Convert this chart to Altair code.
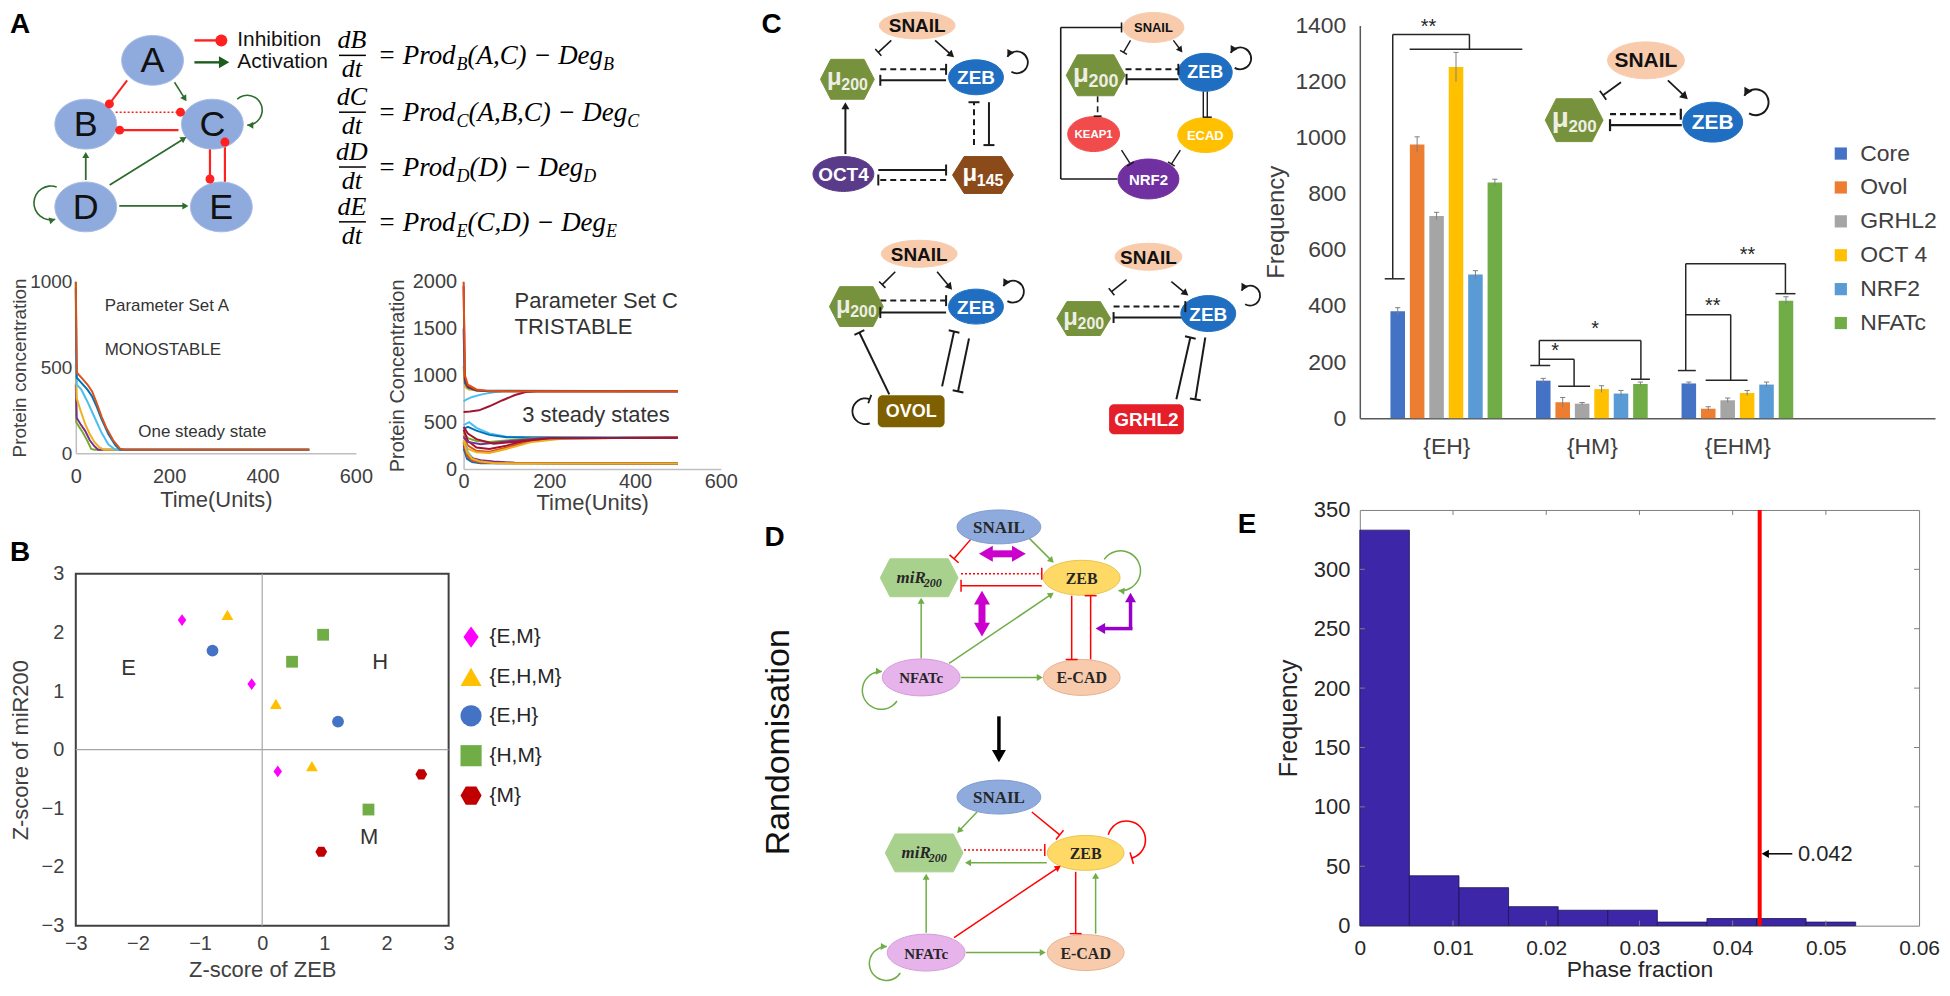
import math
import altair as alt
import pandas as pd

SANS = "Liberation Sans, Arial, Helvetica, sans-serif"
SERIF = "Liberation Serif, Times New Roman, serif"

# ================= DATA =================
# Panel A - monostable trajectories (time, concentration)
mono_t_green = [0, 1, 8, 15, 25, 33, 40, 500]
mono_v_green = [1000, 180, 150, 120, 70, 25, 20, 20]
mono_t_purple = [0, 2, 10, 20, 30, 40, 48, 500]
mono_v_purple = [400, 205, 170, 130, 75, 40, 20, 20]
mono_t_yellow = [0, 2, 10, 20, 30, 40, 50, 60, 500]
mono_v_yellow = [520, 320, 250, 170, 110, 65, 35, 20, 20]
mono_t_lblue = [0, 2, 12, 25, 35, 45, 55, 70, 85, 500]
mono_v_lblue = [600, 400, 370, 300, 240, 180, 120, 50, 20, 20]
mono_t_blue = [0, 2, 12, 25, 35, 45, 55, 70, 85, 95, 500]
mono_v_blue = [960, 440, 410, 370, 330, 270, 200, 110, 45, 20, 20]
mono_t_orange = [0, 2, 12, 25, 35, 45, 55, 65, 80, 95, 105, 500]
mono_v_orange = [1000, 470, 440, 400, 360, 290, 215, 150, 75, 25, 20, 20]

# Panel A - tristable trajectories
tri_curves = [
    ("u_yellow", "#EDB120", [0, 3, 12, 40, 500], [1100, 880, 850, 832, 830]),
    ("u_lblue", "#4DBEEE", [0, 5, 20, 45, 70, 95, 500], [720, 740, 770, 800, 820, 830, 830]),
    ("u_dred", "#A2142F", [0, 15, 36, 60, 91, 120, 145, 170, 500], [610, 615, 627, 670, 735, 790, 822, 830, 830]),
    ("u_blue", "#0072BD", [0, 3, 10, 30, 500], [1500, 920, 870, 838, 830]),
    ("u_red", "#A2142F", [0, 3, 10, 30, 60, 500], [1950, 960, 880, 840, 830, 830]),
    ("u_orange", "#D95319", [0, 3, 10, 30, 60, 500], [2000, 1000, 900, 850, 832, 830]),
    ("m_lblue", "#4DBEEE", [0, 13, 30, 60, 100, 150, 500], [470, 500, 440, 380, 345, 335, 335]),
    ("m_blue", "#0072BD", [0, 10, 30, 60, 100, 500], [430, 450, 410, 365, 340, 335]),
    ("m_green", "#77AC30", [0, 10, 30, 60, 100, 160, 500], [390, 330, 300, 290, 305, 330, 335]),
    ("m_dred", "#A2142F", [0, 10, 30, 60, 100, 150, 200, 500], [420, 300, 230, 215, 250, 305, 330, 335]),
    ("m_orange", "#D95319", [0, 10, 30, 60, 100, 150, 220, 500], [360, 250, 195, 185, 230, 295, 330, 335]),
    ("m_yellow", "#EDB120", [0, 10, 30, 60, 100, 160, 240, 500], [310, 215, 180, 172, 215, 290, 328, 335]),
    ("m_purple", "#7E2F8E", [0, 10, 40, 100, 180, 500], [340, 290, 265, 295, 330, 335]),
    ("m_dred2", "#A2142F", [0, 10, 30, 70, 120, 200, 500], [450, 380, 320, 270, 290, 328, 335]),
    ("l_green", "#77AC30", [0, 8, 20, 40, 500], [280, 130, 85, 65, 60]),
    ("l_lblue", "#4DBEEE", [0, 5, 10, 25, 50, 500], [270, 250, 180, 95, 65, 60]),
    ("l_blue", "#0072BD", [0, 8, 20, 40, 500], [220, 110, 75, 63, 60]),
    ("l_purple", "#7E2F8E", [0, 8, 20, 40, 70, 120, 200, 500], [250, 150, 115, 95, 80, 68, 62, 60]),
    ("l_orange", "#D95319", [0, 8, 20, 40, 80, 500], [290, 140, 90, 70, 62, 60]),
    ("l_yellow", "#EDB120", [0, 8, 20, 40, 70, 120, 500], [300, 180, 110, 80, 66, 60, 60]),
]

# Panel B - Z-scores
zeb_z = [-1.29, -0.17, 0.25, -0.56, 0.22, 0.80, -0.80, 1.22, 0.98, 0.48, 1.71, 2.56, 0.95]
mir_z = [2.21, 1.12, -0.37, 2.30, 0.78, -0.28, 1.69, 0.48, 1.96, 1.50, -1.02, -0.42, -1.74]
state_of = ["{E,M}", "{E,M}", "{E,M}", "{E,H,M}", "{E,H,M}", "{E,H,M}", "{E,H}", "{E,H}",
            "{H,M}", "{H,M}", "{H,M}", "{M}", "{M}"]
states = ["{E,M}", "{E,H,M}", "{E,H}", "{H,M}", "{M}"]
state_colors = ["#FF00FF", "#FFC000", "#4472C4", "#70AD47", "#C00000"]
region_labels = ["E", "H", "M"]
region_x = [-2.15, 1.90, 1.72]
region_y = [1.39, 1.50, -1.49]

# Panel C - frequencies
bar_groups = ["{EH}", "{HM}", "{EHM}"]
bar_series = ["Core", "Ovol", "GRHL2", "OCT 4", "NRF2", "NFATc"]
bar_colors = ["#4472C4", "#ED7D31", "#A5A5A5", "#FFC000", "#5B9BD5", "#70AD47"]
freq_EH = [381, 976, 721, 1252, 512, 840]
freq_HM = [134, 57, 52, 104, 88, 122]
freq_EHM = [124, 34, 64, 90, 120, 419]
err_EH = [13, 27, 13, 52, 14, 12]
err_HM = [8, 17, 4, 12, 11, 7]
err_EHM = [5, 7, 8, 9, 9, 14]

# Panel E - histogram of phase fraction
bin_edges = [0, 0.00532, 0.01064, 0.01596, 0.02128, 0.0266, 0.03192, 0.03724, 0.04256, 0.04788, 0.0532]
bin_counts = [333, 42, 32, 16, 13, 13, 3, 6, 6, 3]
observed_fraction = 0.0429
observed_label = "0.042"

# ================= HELPERS =================
TI_W = {" ": 250, "=": 675, "P": 611, "r": 389, "o": 500, "d": 500, "(": 333, ")": 333,
        ",": 250, "A": 611, "B": 611, "C": 667, "D": 722, "E": 611, "\u2212": 675, "e": 444,
        "g": 500, "t": 278, "m": 722, "i": 278, "R": 611}


def ti_width(s, fs):
    return sum(TI_W.get(ch, 500) for ch in s) * fs / 1000.0


def ell_path(w, h):
    k = h / w
    c = 0.5523
    return ("M -1 0 C -1 %.4f %.4f %.4f 0 %.4f C %.4f %.4f 1 %.4f 1 0 "
            "C 1 %.4f %.4f %.4f 0 %.4f C %.4f %.4f -1 %.4f -1 0 Z" % (
                -c * k, -c, -k, -k, c, -k, -c * k,
                c * k, c, k, k, -c, k, c * k))


def hex_path(w, h, a):
    k = h / w
    return "M -1 0 L %.3f %.4f L %.3f %.4f L 1 0 L %.3f %.4f L %.3f %.4f Z" % (-a, -k, a, -k, a, k, -a, k)


def ncol(f):
    return alt.Color(f + ":N", scale=None, legend=None)


def frame_layers(pw, ph, L, T, R, B):
    """Two 1-px white marks at the corners of the box that fixes a view's layout bounds."""
    one = pd.DataFrame({"f": [0]})
    tl = alt.Chart(one).mark_rect(color="#FFFFFF", opacity=1).encode(
        x=alt.value(-L), x2=alt.value(-L + 1), y=alt.value(-T), y2=alt.value(-T + 1))
    br = alt.Chart(one).mark_rect(color="#FFFFFF", opacity=1).encode(
        x=alt.value(pw + R - 1), x2=alt.value(pw + R), y=alt.value(ph + B - 1), y2=alt.value(ph + B))
    return [tl, br]


def indep(ch):
    return ch.resolve_scale(color="independent", shape="independent")


class Diagram:
    """Schematic on a pixel-like linear scale; the view covers [x0, x0+vw] x [y0, y0+vh],
    and its layout box extends L/T/R/B pixels around the view."""

    def __init__(self, x0, y0, vw, vh, L=0, T=0, R=0, B=0):
        self.x0, self.y0, self.vw, self.vh = x0, y0, vw, vh
        self.ext = (L, T, R, B)
        self.nodes, self.rects, self.texts, self.lines = [], [], [], []
        self.tris, self.bars, self.dots, self.arcs = [], [], [], []

    def node(self, x, y, w, h, kind, fill, edge=None, a=0.62):
        edge = edge or fill
        if kind == "rect":
            self.rects.append(dict(x=x - w / 2.0, x2=x + w / 2.0, y=y - h / 2.0, y2=y + h / 2.0, fill=fill))
            return
        path = ell_path(w, h) if kind == "ellipse" else hex_path(w, h, a)
        self.nodes.append(dict(x=x, y=y, path=path, size=w * w, fill=fill, edge=edge))

    def text(self, x, y, s, size, color="#000000", font=SANS, weight="normal", style="normal",
             align="center", baseline="middle", angle=0):
        self.texts.append(dict(x=x, y=y, text=s, fs=size, color=color,
                               key=(font, weight, style, align, baseline, angle)))

    def _head(self, xa, ya, xb, yb, color, lw, kind, hsize):
        dx, dy = xb - xa, yb - ya
        L = math.hypot(dx, dy) or 1.0
        ux, uy = dx / L, dy / L
        ang = math.degrees(math.atan2(ux, -uy)) % 360.0
        if kind == "arrow":
            s = hsize or 8.0
            h = math.sqrt(3.0) / 4.0 * s
            self.tris.append(dict(x=xb - ux * h, y=yb - uy * h, ang=ang, size=s * s, color=color))
            return 1.6 * h
        if kind == "bar":
            s = hsize or 10.0
            self.bars.append(dict(x=xb, y=yb, ang=ang, size=s * s, color=color, lw=max(lw, 1.5)))
            return 0.0
        if kind == "dot":
            s = hsize or 9.0
            self.dots.append(dict(x=xb, y=yb, size=s * s, color=color))
            return 0.0
        return 0.0

    def edge(self, x1, y1, x2, y2, color, lw=1.6, dash="solid", head=None, tail=None, hsize=None):
        L = math.hypot(x2 - x1, y2 - y1) or 1.0
        ux, uy = (x2 - x1) / L, (y2 - y1) / L
        ex, ey, sx, sy = x2, y2, x1, y1
        if head:
            cut = self._head(x1, y1, x2, y2, color, lw, head, hsize)
            ex, ey = x2 - ux * cut, y2 - uy * cut
        if tail:
            cut = self._head(x2, y2, x1, y1, color, lw, tail, hsize)
            sx, sy = x1 + ux * cut, y1 + uy * cut
        self.lines.append(dict(x=sx, y=sy, x2=ex, y2=ey, color=color, lw=lw, dash=dash))

    def loop(self, cx, cy, r, a1, a2, color, lw=1.6, head="arrow", at="end", hsize=8.0):
        self.arcs.append(dict(x=cx, y=cy, t1=math.radians(a1), t2=math.radians(a2),
                              r=r + lw / 2.0, r2=r - lw / 2.0, color=color))
        phi = math.radians(a2 if at == "end" else a1)
        px, py = cx + r * math.sin(phi), cy - r * math.cos(phi)
        tx, ty = math.cos(phi), math.sin(phi)
        if at == "start":
            tx, ty = -tx, -ty
        self._head(px - tx, py - ty, px, py, color, lw, head, hsize)

    def layers(self):
        sx = alt.Scale(domain=[self.x0, self.x0 + self.vw], nice=False, zero=False)
        sy = alt.Scale(domain=[self.y0, self.y0 + self.vh], nice=False, zero=False, reverse=True)

        def X(f="x"):
            return alt.X(f + ":Q", scale=sx, axis=None)

        def Y(f="y"):
            return alt.Y(f + ":Q", scale=sy, axis=None)

        def SZ(f):
            return alt.Size(f + ":Q", scale=None, legend=None)

        out = []
        for dname, dash in (("solid", None), ("dash", [6, 4]), ("dot", [2, 2])):
            rows = [l for l in self.lines if l["dash"] == dname]
            if not rows:
                continue
            kw = {} if dash is None else {"strokeDash": dash}
            out.append(alt.Chart(pd.DataFrame(rows)).mark_rule(strokeCap="butt", **kw).encode(
                x=X(), y=Y(), x2=alt.X2("x2:Q"), y2=alt.Y2("y2:Q"), color=ncol("color"),
                strokeWidth=alt.StrokeWidth("lw:Q", scale=None, legend=None)))
        if self.arcs:
            out.append(alt.Chart(pd.DataFrame(self.arcs)).mark_arc().encode(
                x=X(), y=Y(), theta=alt.Theta("t1:Q", scale=None, stack=False),
                theta2=alt.Theta2("t2:Q"), radius=alt.Radius("r:Q", scale=None),
                radius2=alt.Radius2("r2:Q"), color=ncol("color")))
        if self.rects:
            out.append(alt.Chart(pd.DataFrame(self.rects)).mark_rect(cornerRadius=5).encode(
                x=X(), x2=alt.X2("x2:Q"), y=Y(), y2=alt.Y2("y2:Q"), color=ncol("fill")))
        if self.nodes:
            out.append(alt.Chart(pd.DataFrame(self.nodes)).mark_point(
                filled=True, opacity=1, strokeWidth=1).encode(
                x=X(), y=Y(), shape=alt.Shape("path:N", scale=None, legend=None),
                size=SZ("size"), color=ncol("fill"),
                stroke=alt.Stroke("edge:N", scale=None, legend=None)))
        if self.tris:
            out.append(alt.Chart(pd.DataFrame(self.tris)).mark_point(
                shape="triangle-up", filled=True, opacity=1).encode(
                x=X(), y=Y(), angle=alt.Angle("ang:Q", scale=None),
                size=SZ("size"), color=ncol("color")))
        if self.bars:
            out.append(alt.Chart(pd.DataFrame(self.bars)).mark_point(
                shape="stroke", filled=False, opacity=1).encode(
                x=X(), y=Y(), angle=alt.Angle("ang:Q", scale=None),
                size=SZ("size"), color=ncol("color"),
                strokeWidth=alt.StrokeWidth("lw:Q", scale=None, legend=None)))
        if self.dots:
            out.append(alt.Chart(pd.DataFrame(self.dots)).mark_point(
                shape="circle", filled=True, opacity=1).encode(
                x=X(), y=Y(), size=SZ("size"), color=ncol("color")))
        groups = {}
        for t in self.texts:
            groups.setdefault(t["key"], []).append({k: v for k, v in t.items() if k != "key"})
        for (font, weight, style, align, baseline, angle), rows in groups.items():
            mk = dict(font=font, fontWeight=weight, fontStyle=style, align=align, baseline=baseline)
            if angle:
                mk["angle"] = angle
            out.append(alt.Chart(pd.DataFrame(rows)).mark_text(**mk).encode(
                x=X(), y=Y(), text="text:N", color=ncol("color"), size=SZ("fs")))
        return out

    def chart(self):
        return alt.layer(*frame_layers(self.vw, self.vh, *self.ext), *self.layers()).properties(
            width=self.vw, height=self.vh)


def mu(d, x, y, sub, big=24, small=16, color="#EEEEE4"):
    wb = 0.6 * big
    ws = 0.556 * len(sub) * small
    x0 = x - (wb + ws) / 2.0
    d.text(x0, y + 0.25 * big, "\u03bc", big, color, weight="bold", align="left", baseline="alphabetic")
    d.text(x0 + wb, y + 0.25 * big + 0.3 * small, sub, small, color, weight="bold", align="left",
           baseline="alphabetic")


def mir(d, x, y):
    w1 = ti_width("miR", 17)
    x0 = x - (w1 + 18) / 2.0
    d.text(x0, y + 5, "miR", 17, "#262626", font=SERIF, weight="bold", style="italic", align="left",
           baseline="alphabetic")
    d.text(x0 + w1, y + 9, "200", 12, "#262626", font=SERIF, weight="bold", style="italic", align="left",
           baseline="alphabetic")


K = "#1A1A1A"

# ================= PANEL A: network + equations =================
a = Diagram(75, 23, 685, 239, L=67, T=15)
a.text(9, 23, "A", 28, weight="bold", align="left")
A_RED, A_GRN = "#FF2020", "#2F6B2F"
a.edge(126.5, 78, 108.7, 101.7, A_RED, 2, head="dot")
a.edge(174, 80, 186, 99, A_GRN, 1.6, head="arrow", hsize=7)
a.edge(115, 110, 180, 110, A_RED, 1.5, dash="dot", head="dot")
a.edge(178, 128, 119, 128, A_RED, 2.4, head="dot")
a.edge(85, 178, 85, 150, A_GRN, 1.8, head="arrow", hsize=7)
a.edge(109, 183, 186, 135, A_GRN, 1.8, head="arrow", hsize=7)
a.edge(118.6, 204, 188, 204, A_GRN, 1.8, head="arrow", hsize=7)
a.edge(209.6, 147, 209.6, 177, A_RED, 2.2, head="dot")
a.edge(224.6, 180, 224.6, 140, A_RED, 2.2, head="dot")
a.loop(247, 108, 15, 318, 540, A_GRN, 1.6, head="arrow", at="end", hsize=7)
a.loop(50, 201, 17, 165, 380, A_GRN, 1.6, head="arrow", at="start", hsize=7)
for name, (nx, ny) in zip(["A", "B", "C", "D", "E"], [(152, 58), (85, 122), (212, 122), (85, 205), (221, 205)]):
    a.node(nx, ny, 62, 50, "ellipse", "#8FAADC", edge="#A8BCE5")
    a.text(nx, ny + 1, name, 36, "#111111")
a.edge(194, 38, 221, 38, A_RED, 2.4, head="dot", hsize=12)
a.text(237, 38, "Inhibition", 21, "#111111", align="left")
a.edge(194, 60, 229, 60, "#1E5C1E", 2.4, head="arrow", hsize=12)
a.text(237, 60, "Activation", 21, "#111111", align="left")

eq_vars = ["B", "C", "D", "E"]
eq_args = ["(A,C)", "(A,B,C)", "(D)", "(C,D)"]
eq_bar_y = [53, 110, 165, 220]
for v, args, yb in zip(eq_vars, eq_args, eq_bar_y):
    a.text(352, yb - 7, "d" + v, 26, font=SERIF, style="italic", baseline="alphabetic")
    a.edge(339, yb, 366, yb, "#000000", 1.5)
    a.text(352, yb + 22, "dt", 26, font=SERIF, style="italic", baseline="alphabetic")
    xcur = 378
    for s, fs, dy in (("= Prod", 27, 0), (v, 18, 6), (args + " \u2212 Deg", 27, 0), (v, 18, 6)):
        a.text(xcur, yb + 9 + dy, s, fs, font=SERIF, style="italic", align="left", baseline="alphabetic")
        xcur += ti_width(s, fs)
A_top = a.chart()

# ================= PANEL A: trajectory plots =================
mono_list = [
    ("g", "#77AC30", mono_t_green, mono_v_green),
    ("p", "#7E2F8E", mono_t_purple, mono_v_purple),
    ("y", "#EDB120", mono_t_yellow, mono_v_yellow),
    ("lb", "#4DBEEE", mono_t_lblue, mono_v_lblue),
    ("b", "#0072BD", mono_t_blue, mono_v_blue),
    ("o", "#D95319", mono_t_orange, mono_v_orange),
]


def curves_df(curves):
    rows = []
    for i, (name, color, ts, vs) in enumerate(curves):
        for t, v in zip(ts, vs):
            rows.append(dict(curve="%02d_%s" % (i, name), color=color, t=t, v=v))
    return pd.DataFrame(rows)


def traj_chart(df, ymax, yvals, ytitle, w, h, texts, tsize, frame, ytp=5, lfs=20, tfs=20, lpad=7,
               xlpad=10, xtpad=6):
    xs = alt.Scale(domain=[0, 600], nice=False, zero=False)
    ys = alt.Scale(domain=[0, ymax], nice=False)
    lines = alt.Chart(df).mark_line(strokeWidth=2).encode(
        x=alt.X("t:Q", scale=xs, axis=alt.Axis(values=[0, 200, 400, 600], title="Time(Units)", format="d",
                                              labelFontSize=20, titleFontSize=22, labelColor="#404040",
                                              titleColor="#404040", titleFontWeight="normal",
                                              domainColor="#BFBFBF", domainWidth=1.5, ticks=False,
                                              grid=False, labelPadding=xlpad, titlePadding=xtpad,
                                              labelFlush=False, labelOverlap=False)),
        y=alt.Y("v:Q", scale=ys, axis=alt.Axis(values=yvals, title=ytitle, format="d", labelFontSize=lfs,
                                              titleFontSize=tfs, labelColor="#404040", titleColor="#404040",
                                              titleFontWeight="normal", domainColor="#BFBFBF",
                                              domainWidth=1.5, ticks=False, grid=False, labelPadding=lpad,
                                              labelFlush=False, labelOverlap=False, titlePadding=ytp)),
        color=ncol("color"),
        detail="curve:N")
    tdf = pd.DataFrame(texts, columns=["t", "v", "label"])
    txt = alt.Chart(tdf).mark_text(align="left", baseline="middle", fontSize=tsize, color="#333333").encode(
        x=alt.X("t:Q", scale=xs), y=alt.Y("v:Q", scale=ys), text="label:N")
    return alt.layer(*frame_layers(w, h, *frame), lines, txt).properties(width=w, height=h)


left_plot = traj_chart(curves_df(mono_list), 1000, [0, 500, 1000], "Protein concentration", 281, 172,
                       [(62, 857, "Parameter Set A"), (62, 600, "MONOSTABLE"), (134, 126, "One steady state")],
                       17, (67, 18, 26, 68), ytp=0, lfs=19, tfs=19, lpad=4, xlpad=13, xtpad=4)
right_plot = traj_chart(curves_df(tri_curves), 2000, [0, 500, 1000, 1500, 2000], "Protein Concentration",
                        258, 188,
                        [(119, 1795, "Parameter Set C"), (119, 1514, "TRISTABLE"), (137, 573, "3 steady states")],
                        22, (82, 18, 38, 52), ytp=5, xlpad=2, xtpad=2)

# ================= PANEL B =================
bxs = alt.Scale(domain=[-3, 3], nice=False, zero=False)
bys = alt.Scale(domain=[-3, 3], nice=False, zero=False)
sc_df = pd.DataFrame({"zeb": zeb_z, "mir": mir_z, "state": state_of})
hexagon = "M -1 0 L -0.5 -0.866 L 0.5 -0.866 L 1 0 L 0.5 0.866 L -0.5 0.866 Z"
diamond = "M 0 -1 L 0.72 0 L 0 1 L -0.72 0 Z"
b_legend = alt.Legend(orient="none", legendX=385, legendY=52, title=None, labelFontSize=21,
                      labelColor="#262626", symbolSize=450, rowPadding=17, labelOffset=7, padding=0)
zero_df = pd.DataFrame({"z": [0]})
b_vline = alt.Chart(zero_df).mark_rule(color="#A6A6A6", strokeWidth=1.2).encode(
    x=alt.X("z:Q", scale=bxs, axis=alt.Axis(values=[-3, -2, -1, 0, 1, 2, 3], title="Z-score of ZEB", format="d",
                                            labelFontSize=20, titleFontSize=22, labelColor="#404040",
                                            titleColor="#404040", titleFontWeight="normal", domain=False,
                                            ticks=False, grid=False, labelPadding=8, titlePadding=6,
                                            labelFlush=False, labelOverlap=False)))
b_hline = alt.Chart(zero_df).mark_rule(color="#A6A6A6", strokeWidth=1.2).encode(
    y=alt.Y("z:Q", scale=bys, axis=alt.Axis(values=[-3, -2, -1, 0, 1, 2, 3], title="Z-score of miR200",
                                            format="d", labelFontSize=20, titleFontSize=22, labelColor="#404040",
                                            titleColor="#404040", titleFontWeight="normal", domain=False,
                                            ticks=False, grid=False, labelPadding=12, titlePadding=9,
                                            labelFlush=False, labelOverlap=False)))
b_pts = alt.Chart(sc_df).mark_point(filled=True, opacity=1, size=140).encode(
    x=alt.X("zeb:Q", scale=bxs), y=alt.Y("mir:Q", scale=bys),
    color=alt.Color("state:N", scale=alt.Scale(domain=states, range=state_colors), legend=b_legend),
    shape=alt.Shape("state:N", scale=alt.Scale(domain=states,
                                              range=[diamond, "triangle-up", "circle", "square", hexagon]),
                    legend=b_legend))
b_txt = alt.Chart(pd.DataFrame({"x": region_x, "y": region_y, "t": region_labels})).mark_text(
    fontSize=22, color="#333333").encode(
    x=alt.X("x:Q", scale=bxs), y=alt.Y("y:Q", scale=bys), text="t:N")
b_letter = alt.Chart(pd.DataFrame({"t": ["B"]})).mark_text(
    fontSize=28, fontWeight="bold", align="left", color="#000000").encode(
    x=alt.value(-66), y=alt.value(-21), text="t:N")
B_plot = alt.layer(*frame_layers(374, 353, 67, 52, 311, 53), b_vline, b_hline, b_pts, b_txt, b_letter).properties(
    width=374, height=353, view=alt.ViewBackground(stroke="#404040", strokeWidth=2))

# ================= PANEL C diagrams =================
SN_F, MIR_F, ZEB_F = "#F8CBAD", "#76923C", "#1F6EC1"
c = Diagram(760, 23, 506, 447, T=15)
c.text(772, 23, "C", 28, weight="bold")
# diagram 1 (OCT4)
c.edge(892, 38, 879, 50, K, 1.6, head="bar", hsize=9)
c.edge(936, 38, 955, 55, K, 1.6, head="arrow", hsize=8)
c.edge(881, 67, 947, 67, K, 2, dash="dash", head="bar", hsize=11)
c.edge(947, 78, 881, 78, K, 2, head="bar", hsize=11)
c.loop(1018, 60, 11, 300, 570, K, 1.8, head="arrow", at="start", hsize=8)
c.edge(975, 143, 975, 100, K, 2, dash="dash", head="bar", hsize=11)
c.edge(990, 100, 990, 143, K, 2, head="bar", hsize=11)
c.edge(846, 152, 846, 100, K, 2, head="arrow", hsize=8)
c.edge(879, 168, 947, 168, K, 2, head="bar", hsize=11)
c.edge(947, 178, 879, 178, K, 2, dash="dash", head="bar", hsize=11)
c.node(918, 23, 76, 27, "ellipse", SN_F)
c.text(918, 24, "SNAIL", 19, "#111111", weight="bold")
c.node(848, 77, 54, 40, "hex", MIR_F)
mu(c, 848, 77, "200")
c.node(977, 75, 55, 35, "ellipse", ZEB_F)
c.text(977, 76, "ZEB", 19, "#FFFFFF", weight="bold")
c.node(844, 172, 61, 35, "ellipse", "#5A3B89")
c.text(844, 173, "OCT4", 19, "#FFFFFF", weight="bold")
c.node(984, 173, 61, 37, "hex", "#8A4A1A")
mu(c, 984, 173, "145", color="#FFFFFF")
# diagram 2 (NRF2)
c.edge(1132, 38, 1125, 50, K, 1.4, head="bar", hsize=8)
c.edge(1175, 38, 1184, 50, K, 1.4, head="arrow", hsize=7)
c.edge(1127, 67, 1180, 67, K, 2, dash="dash", head="bar", hsize=11)
c.edge(1180, 77, 1128, 77, K, 2, head="bar", hsize=11)
c.edge(1099, 94, 1099, 114, K, 1.6, dash="dash", head="bar", hsize=8)
c.edge(1205, 89, 1205, 115, K, 1.4)
c.edge(1209, 89, 1209, 115, K, 1.4, head="bar", hsize=9)
c.edge(1123, 148, 1132, 162, K, 1.4, head="bar", hsize=8)
c.edge(1182, 148, 1173, 162, K, 1.4, head="bar", hsize=8)
c.edge(1119, 177, 1062, 177, K, 1.6)
c.edge(1062, 177, 1062, 25, K, 1.6)
c.edge(1062, 25, 1123, 25, K, 1.6, head="bar", hsize=10)
c.loop(1242, 56, 11, 300, 570, K, 1.8, head="arrow", at="start", hsize=8)
c.node(1155, 25, 61, 30, "ellipse", SN_F)
c.text(1155, 26, "SNAIL", 13, "#111111", weight="bold")
c.node(1097, 73, 59, 41, "hex", MIR_F)
mu(c, 1097, 73, "200", big=26, small=18)
c.node(1207, 70, 54, 38, "ellipse", ZEB_F)
c.text(1207, 71, "ZEB", 18, "#FFFFFF", weight="bold")
c.node(1095, 132, 52, 35, "ellipse", "#F14B4B")
c.text(1095, 133, "KEAP1", 11.5, "#FFFFFF", weight="bold")
c.node(1207, 133, 55, 35, "ellipse", "#FFC000")
c.text(1207, 134, "ECAD", 13, "#FFFFFF", weight="bold")
c.node(1150, 177, 61, 40, "ellipse", "#7030A0")
c.text(1150, 178, "NRF2", 15, "#FFFFFF", weight="bold")
# diagram 3 (OVOL)
c.edge(896, 270, 883, 283, K, 1.6, head="bar", hsize=9)
c.edge(938, 270, 953, 288, K, 1.6, head="arrow", hsize=8)
c.edge(881, 299, 947, 299, K, 2, dash="dash", head="bar", hsize=11)
c.edge(947, 311, 881, 311, K, 2, head="bar", hsize=11)
c.loop(1014, 290, 11, 300, 570, K, 1.8, head="arrow", at="start", hsize=8)
c.edge(890, 393, 860, 331, K, 2, head="bar", hsize=11)
c.edge(943, 385, 955, 330, K, 2, head="bar", hsize=11)
c.edge(970, 337, 959, 390, K, 2, head="bar", hsize=11)
c.loop(866, 410, 13, 160, 380, K, 1.8, head="bar", at="end", hsize=9)
c.node(920, 252, 76, 27, "ellipse", SN_F)
c.text(920, 253, "SNAIL", 19, "#111111", weight="bold")
c.node(857, 305, 54, 40, "hex", MIR_F)
mu(c, 857, 305, "200")
c.node(977, 305, 55, 35, "ellipse", ZEB_F)
c.text(977, 306, "ZEB", 19, "#FFFFFF", weight="bold")
c.node(912, 410, 67, 32, "rect", "#7F6000")
c.text(912, 411, "OVOL", 18, "#FFFFFF", weight="bold")
# diagram 4 (GRHL2)
c.edge(1128, 278, 1113, 290, K, 1.6, head="bar", hsize=9)
c.edge(1173, 280, 1190, 294, K, 1.6, head="arrow", hsize=8)
c.edge(1115, 305, 1187, 305, K, 2, dash="dash", head="bar", hsize=11)
c.edge(1187, 316, 1115, 316, K, 2, head="bar", hsize=11)
c.loop(1252, 294, 10, 300, 570, K, 1.8, head="arrow", at="start", hsize=8)
c.edge(1178, 398, 1192, 336, K, 2, head="bar", hsize=11)
c.edge(1207, 336, 1197, 398, K, 2, head="bar", hsize=11)
c.node(1150, 255, 67, 27, "ellipse", SN_F)
c.text(1150, 256, "SNAIL", 19, "#111111", weight="bold")
c.node(1085, 317, 54, 34, "hex", MIR_F)
mu(c, 1085, 317, "200")
c.node(1210, 312, 55, 36, "ellipse", ZEB_F)
c.text(1210, 313, "ZEB", 19, "#FFFFFF", weight="bold")
c.node(1148, 418, 75, 30, "rect", "#E51F2A")
c.text(1148, 419, "GRHL2", 19, "#FFFFFF", weight="bold")
C_chart = c.chart()

# ================= PANEL D =================
d = Diagram(760, 470, 506, 508)
d.text(775, 537, "D", 28, weight="bold")
d.text(1249, 524, "E", 28, weight="bold")
d.text(779, 742, "Randomisation", 34, "#111111", angle=270)
G, R = "#70AD47", "#FF0000"
D_SN, D_MIR, D_ZEB, D_NF, D_EC = "#8FAADC", "#A9D18E", "#FFD966", "#E6B3EA", "#F8CBAD"
d.edge(973, 537, 955, 558, R, 1.5, head="bar", hsize=12)
d.edge(1030, 537, 1055, 562, G, 1.5, head="arrow", hsize=7)
d.edge(962, 573, 1043, 573, R, 1.5, dash="dot", head="bar", hsize=12)
d.edge(1043, 585, 962, 585, R, 1.5, head="bar", hsize=12)
d.edge(922, 658, 922, 597, G, 1.5, head="arrow", hsize=7)
d.edge(950, 663, 1055, 592, G, 1.5, head="arrow", hsize=7)
d.edge(962, 677, 1044, 677, G, 1.5, head="arrow", hsize=7)
d.edge(1073, 595, 1073, 659, R, 1.5, head="bar", hsize=12)
d.edge(1092, 659, 1092, 595, R, 1.5, head="bar", hsize=12)
d.loop(1122, 570, 20, 305, 546, G, 1.5, head="arrow", at="end", hsize=7)
d.loop(882, 690, 19, 124, 362, G, 1.5, head="arrow", at="end", hsize=7)
d.edge(978, 812, 958, 833, G, 1.5, head="arrow", hsize=7)
d.edge(1033, 812, 1061, 835, R, 1.5, head="bar", hsize=12)
d.edge(965, 850, 1046, 850, R, 1.5, dash="dot", head="bar", hsize=12)
d.edge(1048, 863, 966, 863, G, 1.5, head="arrow", hsize=7)
d.edge(927, 933, 927, 874, G, 1.5, head="arrow", hsize=7)
d.edge(955, 938, 1062, 866, R, 1.5, head="arrow", hsize=7)
d.edge(967, 953, 1047, 953, G, 1.5, head="arrow", hsize=7)
d.edge(1077, 872, 1077, 934, R, 1.5, head="bar", hsize=12)
d.edge(1097, 934, 1097, 873, G, 1.5, head="arrow", hsize=7)
d.loop(1128, 840, 19, 286, 524, R, 1.6, head="bar", at="end", hsize=12)
d.loop(887, 964, 17, 124, 362, G, 1.5, head="arrow", at="end", hsize=7)
for (nx, ny) in [(1000, 526), (1000, 797)]:
    d.node(nx, ny, 84, 34, "ellipse", D_SN, edge="#7F9BD0")
    d.text(nx, ny + 1, "SNAIL", 17, "#262626", font=SERIF, weight="bold")
for (mx, my), (zx, zy), (fx, fy), (ex_, ey_) in [((920, 577), (1083, 577), (922, 677), (1083, 677)),
                                                 ((925, 853), (1087, 853), (927, 953), (1087, 953))]:
    d.node(mx, my, 78, 38, "hex", D_MIR, a=0.75)
    mir(d, mx, my)
    d.node(zx, zy, 77, 35, "ellipse", D_ZEB, edge="#E8C450")
    d.text(zx, zy + 1, "ZEB", 16, "#262626", font=SERIF, weight="bold")
    d.node(fx, fy, 78, 37, "ellipse", D_NF, edge="#D49AD8")
    d.text(fx, fy + 1, "NFATc", 15, "#262626", font=SERIF, weight="bold")
    d.node(ex_, ey_, 77, 36, "ellipse", D_EC, edge="#E5B090")
    d.text(ex_, ey_ + 1, "E-CAD", 16, "#262626", font=SERIF, weight="bold")
d.edge(980, 553, 1027, 553, "#CC00CC", 7, head="arrow", tail="arrow", hsize=16)
d.edge(983, 590, 983, 636, "#CC00CC", 7, head="arrow", tail="arrow", hsize=16)
d.edge(1132, 628, 1132, 592, "#9900CC", 3.5, head="arrow", hsize=11)
d.edge(1134, 628, 1097, 628, "#9900CC", 3.5, head="arrow", hsize=11)
d.edge(1000, 716, 1000, 762, "#000000", 3.5, head="arrow", hsize=14)
D_chart = d.chart()

# ================= PANEL C bar chart =================
GU = 146.0
BAR_W = 577
bar_rows = []
for g, (grp, vals, errs) in enumerate(zip(bar_groups, [freq_EH, freq_HM, freq_EHM], [err_EH, err_HM, err_EHM])):
    for k, (ser, v, e) in enumerate(zip(bar_series, vals, errs)):
        xc = g + 0.56 + (k - 2.5) * 0.1335
        bar_rows.append(dict(group=grp, series=ser, value=v, zero=0, xc=xc, xl=xc - 0.05, xr=xc + 0.05,
                             lo=v - e, hi=v + e, cl=xc - 0.018, cr=xc + 0.018))
bar_df = pd.DataFrame(bar_rows)
bxq = alt.Scale(domain=[-5 / GU, 572 / GU], nice=False, zero=False)
byq = alt.Scale(domain=[0, 1400], nice=False)
label_expr = "[" + ",".join("'%s'" % gname for gname in bar_groups) + "][round(datum.value - 0.56)]"
bars = alt.Chart(bar_df).mark_rect().encode(
    x=alt.X("xl:Q", scale=bxq, axis=alt.Axis(values=[0.56, 1.56, 2.56], labelExpr=label_expr, title=None,
                                             labelFontSize=23, labelColor="#404040", labelPadding=17,
                                             ticks=False, grid=False, domainColor="#595959", domainWidth=1.5,
                                             labelFlush=False, labelOverlap=False)),
    x2="xr:Q",
    y=alt.Y("value:Q", scale=byq, axis=alt.Axis(values=list(range(0, 1401, 200)), title="Frequency", format="d",
                                                labelFontSize=23, labelColor="#404040", labelPadding=14,
                                                ticks=False, grid=False, domainColor="#595959",
                                                domainWidth=1.5, titleFontSize=24, titleFontWeight="normal",
                                                titleColor="#404040", titlePadding=6, labelFlush=False,
                                                labelOverlap=False)),
    y2="zero:Q",
    color=alt.Color("series:N", scale=alt.Scale(domain=bar_series, range=bar_colors),
                    legend=alt.Legend(orient="none", legendX=471, legendY=117, title=None, labelFontSize=23,
                                      labelColor="#404040", symbolType="square", symbolSize=150,
                                      rowPadding=10, labelOffset=8, padding=0)))
errbars = alt.Chart(bar_df).mark_rule(color="#7F7F7F", strokeWidth=1).encode(
    x=alt.X("xc:Q", scale=bxq), y=alt.Y("lo:Q", scale=byq), y2="hi:Q")
caps = alt.Chart(bar_df).mark_rule(color="#7F7F7F", strokeWidth=1).encode(
    x=alt.X("cl:Q", scale=bxq), x2="cr:Q", y=alt.Y("hi:Q", scale=byq))
bracket_segments = [
    (0.137, 497, 0.274, 497), (0.192, 497, 0.192, 1368), (0.192, 1368, 0.719, 1368),
    (0.719, 1368, 0.719, 1315), (0.308, 1315, 1.082, 1315),
    (1.137, 188, 1.274, 188), (1.199, 188, 1.199, 277), (1.199, 277, 1.897, 277),
    (1.897, 277, 1.897, 139), (1.829, 139, 1.959, 139),
    (1.199, 210, 1.438, 210), (1.438, 210, 1.438, 114), (1.329, 114, 1.548, 114),
    (2.151, 170, 2.274, 170), (2.205, 170, 2.205, 551), (2.205, 551, 2.890, 551),
    (2.890, 551, 2.890, 444), (2.822, 444, 2.959, 444),
    (2.205, 369, 2.514, 369), (2.514, 369, 2.514, 135), (2.342, 135, 2.630, 135),
]
br_df = pd.DataFrame(bracket_segments, columns=["bx", "by", "bx2", "by2"])
brackets = alt.Chart(br_df).mark_rule(color="#262626", strokeWidth=1.5).encode(
    x=alt.X("bx:Q", scale=bxq), y=alt.Y("by:Q", scale=byq), x2="bx2:Q", y2="by2:Q")
star_df = pd.DataFrame({"sx": [0.438, 1.582, 1.308, 2.630, 2.390], "sy": [1393, 318, 240, 581, 400],
                        "s": ["**", "*", "*", "**", "**"]})
stars = alt.Chart(star_df).mark_text(fontSize=20, color="#262626").encode(
    x=alt.X("sx:Q", scale=bxq), y=alt.Y("sy:Q", scale=byq), text="s:N")
bar_main = alt.layer(*frame_layers(BAR_W, 394, 95, 15, 6, 53), bars, errbars, caps, brackets, stars)

bi = Diagram(1361, 23, BAR_W, 394)
bi.edge(1623, 80, 1605, 93, K, 1.8, head="bar", hsize=11)
bi.edge(1670, 78, 1690, 97, K, 1.8, head="arrow", hsize=9)
bi.edge(1612, 112, 1683, 112, K, 2.2, dash="dash", head="bar", hsize=11)
bi.edge(1684, 123, 1612, 123, K, 2.2, head="bar", hsize=12)
bi.loop(1758, 100, 13, 300, 570, K, 2, head="arrow", at="start", hsize=9)
bi.node(1648, 58, 77, 37, "ellipse", SN_F)
bi.text(1648, 59, "SNAIL", 21, "#111111", weight="bold")
bi.node(1576, 118, 58, 43, "hex", MIR_F)
mu(bi, 1576, 118, "200", big=28, small=17)
bi.node(1715, 120, 60, 40, "ellipse", ZEB_F)
bi.text(1715, 121, "ZEB", 21, "#FFFFFF", weight="bold")
bar_inset = alt.layer(*bi.layers())
bar_chart = alt.layer(bar_main, bar_inset).resolve_scale(
    x="independent", y="independent").properties(width=BAR_W, height=394)

# ================= PANEL E =================
E_W = 561
exs = alt.Scale(domain=[0, 0.06], nice=False, zero=False)
eys = alt.Scale(domain=[0, 350], nice=False)
hist_df = pd.DataFrame({"x0": bin_edges[:-1], "x1": bin_edges[1:], "count": bin_counts, "zero": 0})
e_xticks = [0, 0.01, 0.02, 0.03, 0.04, 0.05, 0.06]
e_yticks = [0, 50, 100, 150, 200, 250, 300, 350]
hist = alt.Chart(hist_df).mark_rect(fill="#3E26A8", stroke="#1C1450", strokeWidth=0.8).encode(
    x=alt.X("x0:Q", scale=exs, axis=alt.Axis(values=e_xticks, format="~g", title="Phase fraction",
                                             labelFontSize=21, labelColor="#262626", labelPadding=12,
                                             titleFontSize=23, titleFontWeight="normal", titleColor="#262626",
                                             titlePadding=0, ticks=False, domain=False, grid=False,
                                             labelFlush=False, labelOverlap=False)),
    x2="x1:Q",
    y=alt.Y("count:Q", scale=eys, axis=alt.Axis(values=e_yticks, title="Frequency", format="d", labelFontSize=22,
                                                labelColor="#262626", labelPadding=10, titleFontSize=25,
                                                titleFontWeight="normal", titleColor="#262626",
                                                titlePadding=12, ticks=False, domain=False, grid=False,
                                                labelFlush=False, labelOverlap=False)),
    y2="zero:Q")
tick_rows = []
for tv in e_xticks[1:-1]:
    tick_rows.append(dict(tx=tv, ty=0, tx2=tv, ty2=4.2))
    tick_rows.append(dict(tx=tv, ty=350, tx2=tv, ty2=345.8))
for tv in e_yticks[1:-1]:
    tick_rows.append(dict(tx=0, ty=tv, tx2=0.00054, ty2=tv))
    tick_rows.append(dict(tx=0.06, ty=tv, tx2=0.05946, ty2=tv))
e_ticks = alt.Chart(pd.DataFrame(tick_rows)).mark_rule(color="#808080", strokeWidth=1).encode(
    x=alt.X("tx:Q", scale=exs), y=alt.Y("ty:Q", scale=eys), x2="tx2:Q", y2="ty2:Q")
obs_df = pd.DataFrame({"ox": [observed_fraction]})
red_line = alt.Chart(obs_df).mark_rule(color="#FF0000", strokeWidth=4).encode(
    x=alt.X("ox:Q", scale=exs))
ann_df = pd.DataFrame({"ax": [observed_fraction + 0.0006], "ax2": [observed_fraction + 0.0035],
                       "ay": [60.5], "atx": [observed_fraction + 0.0041], "label": [observed_label]})
arrow_line = alt.Chart(ann_df).mark_rule(color="#000000", strokeWidth=1.5).encode(
    x=alt.X("ax:Q", scale=exs), x2="ax2:Q", y=alt.Y("ay:Q", scale=eys))
arrow_head = alt.Chart(ann_df).mark_point(shape="triangle-left", filled=True, opacity=1, size=70,
                                          color="#000000").encode(
    x=alt.X("ax:Q", scale=exs), y=alt.Y("ay:Q", scale=eys))
ann_txt = alt.Chart(ann_df).mark_text(align="left", fontSize=22, color="#262626").encode(
    x=alt.X("atx:Q", scale=exs), y=alt.Y("ay:Q", scale=eys), text="label:N")
E_chart = alt.layer(*frame_layers(E_W, 417, 95, 38, 22, 53), hist, e_ticks, red_line, arrow_line, arrow_head,
                    ann_txt).properties(
    width=E_W, height=417, view=alt.ViewBackground(stroke="#808080", strokeWidth=1))

# ================= LAYOUT =================
# Views in one column share the same left extent, views in one row the same top extent,
# so the layout packs the fixed corner boxes edge to edge.
plots_row = indep(alt.hconcat(left_plot, right_plot, spacing=0))
col1 = indep(alt.vconcat(A_top, plots_row, B_plot, spacing=0))
col2 = indep(alt.vconcat(C_chart, D_chart, spacing=0))
col3 = indep(alt.vconcat(bar_chart, E_chart, spacing=0))
chart = indep(alt.hconcat(col1, col2, col3, spacing=0)).properties(
    padding=0, background="white").configure(font=SANS).configure_view(strokeWidth=0).configure_axis(grid=False)

chart.save("out.html", embed_options={"renderer": "svg", "actions": False})
